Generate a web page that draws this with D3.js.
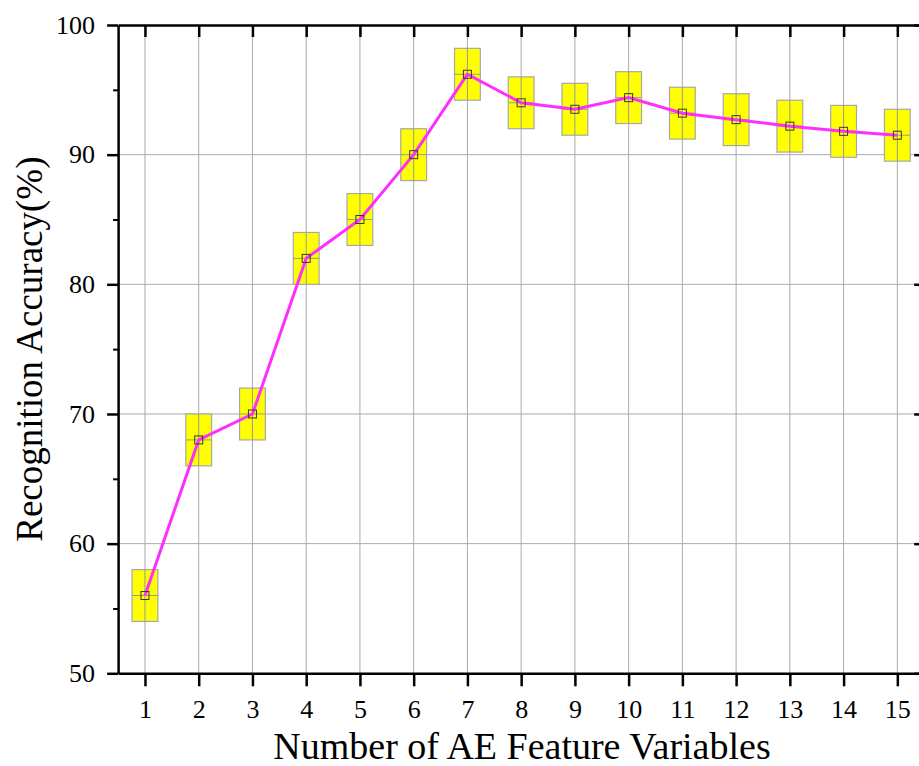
<!DOCTYPE html>
<html>
  <head>
    <title>Recognition Accuracy vs AE Feature Variables</title>
    <script src="https://d3js.org/d3.v7.min.js" charset="utf-8"></script>
    <style>
      body { margin: 0; background: #fff; }
      svg text { font-family: "Palatino Linotype", "Book Antiqua", Palatino, "Liberation Serif", serif; fill: #000; }
    </style>
  </head>
  <body>
    <svg></svg>
    <script>
      // values
      const features = [1, 2, 3, 4, 5, 6, 7, 8, 9, 10, 11, 12, 13, 14, 15];
      const accuracy = [56, 68, 70, 82, 85, 90, 96.2, 94, 93.5, 94.4, 93.2, 92.7, 92.2, 91.8, 91.5];
      const upper = [58, 70, 72, 84, 87, 92, 98.2, 96, 95.5, 96.4, 95.2, 94.7, 94.2, 93.8, 93.5];
      const lower = [54, 66, 68, 80, 83, 88, 94.2, 92, 91.5, 92.4, 91.2, 90.7, 90.2, 89.8, 89.5];
      const yTicks = [50, 60, 70, 80, 90, 100];
      const yMinorTicks = [55, 65, 75, 85, 95];

      const W = 919, H = 766;
      const svg = d3.select("svg").attr("width", W).attr("height", H);

      const x = d3.scaleLinear().domain([0.5, 15.5]).range([118.1, 924.2]);
      const y = d3.scaleLinear().domain([50, 100]).range([673.3, 25]);

      const plotLeft = x.range()[0], plotRight = x.range()[1];
      const plotTop = y.range()[1], plotBottom = y.range()[0];

      // grid
      const grid = svg.append("g");
      grid.selectAll(".gx").data(features).enter().append("line")
        .attr("x1", d => x(d)).attr("x2", d => x(d))
        .attr("y1", plotTop).attr("y2", plotBottom)
        .attr("stroke", "#ababab").attr("stroke-width", 1);
      grid.selectAll(".gy").data(yTicks.slice(1, -1)).enter().append("line")
        .attr("x1", plotLeft).attr("x2", plotRight)
        .attr("y1", d => y(d)).attr("y2", d => y(d))
        .attr("stroke", "#ababab").attr("stroke-width", 1);

      // boxes
      const half = 0.24;
      const boxes = svg.append("g").selectAll("g").data(features).enter().append("g");
      boxes.append("rect")
        .attr("x", d => x(d - half))
        .attr("width", d => x(d + half) - x(d - half))
        .attr("y", (d, i) => y(upper[i]))
        .attr("height", (d, i) => y(lower[i]) - y(upper[i]))
        .attr("fill", "#ffff00")
        .attr("stroke", "#a8a8a8")
        .attr("stroke-width", 1.2);
      boxes.append("line")
        .attr("x1", d => x(d)).attr("x2", d => x(d))
        .attr("y1", (d, i) => y(upper[i])).attr("y2", (d, i) => y(lower[i]))
        .attr("stroke", "#9a9a9a").attr("stroke-width", 1);
      boxes.append("line")
        .attr("x1", d => x(d - half)).attr("x2", d => x(d + half))
        .attr("y1", (d, i) => y(accuracy[i])).attr("y2", (d, i) => y(accuracy[i]))
        .attr("stroke", "#9a9a9a").attr("stroke-width", 1);

      // line
      const line = d3.line().x(d => x(d[0])).y(d => y(d[1]));
      svg.append("path")
        .datum(features.map((f, i) => [f, accuracy[i]]))
        .attr("fill", "none")
        .attr("stroke", "#ff2eff")
        .attr("stroke-width", 3)
        .attr("d", line);

      // markers
      svg.append("g").selectAll("rect").data(features).enter().append("rect")
        .attr("x", d => x(d) - 4).attr("y", (d, i) => y(accuracy[i]) - 4)
        .attr("width", 8).attr("height", 8)
        .attr("fill", "none").attr("stroke", "#3a3a2a").attr("stroke-width", 1);

      // axes
      const axisG = svg.append("g");
      axisG.append("g").attr("transform", `translate(0,${plotBottom})`)
        .call(d3.axisBottom(x).tickValues(features).tickSize(13).tickSizeOuter(0).tickPadding(13))
        .call(g => g.select(".domain").attr("stroke-width", 2.5))
        .call(g => g.selectAll(".tick line").attr("stroke-width", 2.5))
        .call(g => g.selectAll(".tick text").attr("font-size", 26).attr("fill", "#000"));

      axisG.append("g").attr("transform", `translate(0,${plotTop})`)
        .call(d3.axisBottom(x).tickValues(features).tickSize(12).tickSizeOuter(0).tickFormat(""))
        .call(g => g.select(".domain").attr("stroke-width", 2.5))
        .call(g => g.selectAll(".tick line").attr("stroke-width", 2.5));

      axisG.append("g").attr("transform", `translate(${plotLeft},0)`)
        .call(d3.axisLeft(y).tickValues(yTicks).tickSize(11).tickSizeOuter(0).tickPadding(12))
        .call(g => g.select(".domain").attr("stroke-width", 2.5))
        .call(g => g.selectAll(".tick line").attr("stroke-width", 2.5))
        .call(g => g.selectAll(".tick text").attr("font-size", 26).attr("fill", "#000"));

      axisG.append("g").attr("transform", `translate(${plotLeft},0)`)
        .call(d3.axisLeft(y).tickValues(yMinorTicks).tickSize(5).tickSizeOuter(0).tickFormat(""))
        .call(g => g.select(".domain").remove())
        .call(g => g.selectAll(".tick line").attr("stroke-width", 2));

      axisG.append("g").attr("transform", `translate(${plotRight},0)`)
        .call(d3.axisLeft(y).tickValues(yTicks).tickSizeOuter(0).tickFormat(""))
        .call(g => g.select(".domain").attr("stroke-width", 2.5))
        .call(g => g.selectAll(".tick line").attr("stroke-width", 2.5).attr("x2", -10));

      axisG.append("g").attr("transform", `translate(${plotRight},0)`)
        .call(d3.axisLeft(y).tickValues(yMinorTicks).tickSizeOuter(0).tickFormat(""))
        .call(g => g.select(".domain").remove())
        .call(g => g.selectAll(".tick line").attr("stroke-width", 2).attr("x2", -5));

      // axis titles
      svg.append("text")
        .attr("x", 522)
        .attr("y", 759)
        .attr("text-anchor", "middle")
        .attr("font-size", 38)
        .text("Number of AE Feature Variables");

      svg.append("text")
        .attr("transform", `translate(42,${(plotTop + plotBottom) / 2}) rotate(-90)`)
        .attr("text-anchor", "middle")
        .attr("font-size", 37)
        .text("Recognition Accuracy(%)");
    </script>
  </body>
</html>
